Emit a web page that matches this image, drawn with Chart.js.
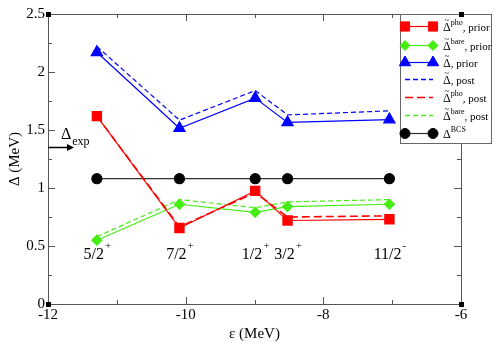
<!DOCTYPE html>
<html><head><meta charset="utf-8">
<script src="https://cdn.jsdelivr.net/npm/chart.js@4"></script>
<style>html,body{margin:0;padding:0;background:#fff;}canvas{display:block;}</style>
</head><body>
<canvas id="c" width="498" height="345"></canvas>
<script>
// ---- data ----
const eps = [-11.29, -10.09, -8.99, -8.52, -7.04];
const stateBase = ['5/2', '7/2', '1/2', '3/2', '11/2'];
const stateParity = ['+', '+', '+', '+', '-'];
const phoPrior  = [1.62, 0.655, 0.975, 0.72, 0.73];
const barePrior = [0.55, 0.86, 0.79, 0.84, 0.86];
const tildePrior = [2.17, 1.515, 1.775, 1.565, 1.59];
const tildePost  = [2.22, 1.585, 1.84, 1.63, 1.665];
const phoPost   = [1.62, 0.665, 0.96, 0.75, 0.76];
const barePost  = [0.58, 0.90, 0.83, 0.88, 0.90];
const bcs       = [1.08, 1.08, 1.08, 1.08, 1.08];
const deltaExp = 1.35;
const stateLabelY = 0.45;
const xTicks = [-12, -10, -8, -6];
const yTicks = [0, 0.5, 1, 1.5, 2, 2.5];

const legendSup = ['pho', 'bare', '', '', 'pho', 'bare', 'BCS'];
const legendSuffix = [', prior', ', prior', ', prior', ', post', ', post', ', post', ''];
const legendTilde = [true, true, true, true, true, true, false];

const RED = '#ff0000', GREEN = '#44ee11', BLUE = '#0000ff', BLACK = '#000000';
const pts = arr => arr.map((v, i) => ({x: eps[i], y: v}));

const datasets = [
  {data: pts(phoPrior), borderColor: RED, backgroundColor: RED, pointStyle: 'rect', pointRadius: 6.5, borderWidth: 1.2},
  {data: pts(barePrior), borderColor: GREEN, backgroundColor: GREEN, pointStyle: 'rectRot', pointRadius: 5, borderWidth: 1.2},
  {data: pts(tildePrior), borderColor: BLUE, backgroundColor: BLUE, pointStyle: 'triangle', pointRadius: 6.5, borderWidth: 1.2},
  {data: pts(tildePost), borderColor: BLUE, borderDash: [5, 3], pointRadius: 0, borderWidth: 1.2},
  {data: pts(phoPost), borderColor: RED, borderDash: [8, 4], pointRadius: 0, borderWidth: 1.6},
  {data: pts(barePost), borderColor: GREEN, borderDash: [5, 3], pointRadius: 0, borderWidth: 1.2},
  {data: pts(bcs), borderColor: '#333', backgroundColor: BLACK, pointStyle: 'circle', pointRadius: 5, borderWidth: 1.2, pointBorderColor: BLACK}
];
datasets.forEach(d => { d.tension = 0; d.fill = false; d.pointHoverRadius = d.pointRadius; });

const SERIF = '"Liberation Serif", "DejaVu Serif", serif';

function drawDeltaLabel(ctx, x, y, tilde, sup, suffix) {
  ctx.fillStyle = '#000';
  ctx.textBaseline = 'alphabetic';
  ctx.textAlign = 'left';
  ctx.font = '12px ' + SERIF;
  ctx.fillText('Δ', x, y);
  const w = ctx.measureText('Δ').width;
  if (tilde) {
    ctx.font = '9px ' + SERIF;
    const tw = ctx.measureText('~').width;
    ctx.fillText('~', x + (w - tw) / 2, y - 8);
  }
  let cx = x + w;
  if (sup) {
    ctx.font = '8px ' + SERIF;
    ctx.fillText(sup, cx, y - 6);
    cx += ctx.measureText(sup).width;
  }
  if (suffix) {
    ctx.font = '11px ' + SERIF;
    ctx.fillText(suffix, cx, y);
  }
}

const deco = {
  id: 'deco',
  beforeDatasetsDraw(chart) {
    const {ctx, chartArea: a, scales: {x, y}} = chart;
    ctx.save();
    ctx.strokeStyle = '#555';
    ctx.lineWidth = 1;
    ctx.strokeRect(a.left + 0.5, a.top + 0.5, a.right - a.left, a.bottom - a.top);
    ctx.beginPath();
    for (let v = -12; v <= -6; v += 1) {
      const px = Math.round(x.getPixelForValue(v)) + 0.5;
      const L = (v % 2 === 0) ? 7 : 4;
      ctx.moveTo(px, a.bottom); ctx.lineTo(px, a.bottom - L);
      ctx.moveTo(px, a.top); ctx.lineTo(px, a.top + L);
    }
    for (let v = 0; v <= 2.5001; v += 0.25) {
      const py = Math.round(y.getPixelForValue(v)) + 0.5;
      const L = (Math.abs(v * 2 - Math.round(v * 2)) < 1e-6) ? 7 : 4;
      ctx.moveTo(a.left, py); ctx.lineTo(a.left + L, py);
      ctx.moveTo(a.right, py); ctx.lineTo(a.right - L, py);
    }
    ctx.stroke();
    ctx.restore();
  },
  afterDraw(chart) {
    const {ctx, chartArea: a, scales: {x, y}} = chart;
    ctx.save();
    // state labels
    eps.forEach((e, i) => {
      const px = x.getPixelForValue(e), py = y.getPixelForValue(stateLabelY);
      ctx.font = '16px ' + SERIF;
      const w1 = ctx.measureText(stateBase[i]).width;
      ctx.font = '11px ' + SERIF;
      const w2 = ctx.measureText(stateParity[i]).width;
      const x0 = px - (w1 + w2) / 2;
      ctx.fillStyle = '#000';
      ctx.textAlign = 'left';
      ctx.textBaseline = 'alphabetic';
      ctx.font = '16px ' + SERIF;
      ctx.fillText(stateBase[i], x0, py + 7);
      ctx.font = '11px ' + SERIF;
      ctx.fillText(stateParity[i], x0 + w1 + 1, py - 3);
    });
    // Delta_exp arrow
    const ay = Math.round(y.getPixelForValue(deltaExp)) + 0.5;
    const ax0 = x.getPixelForValue(-12), ax1 = ax0 + 26;
    ctx.strokeStyle = '#000'; ctx.fillStyle = '#000'; ctx.lineWidth = 1.5;
    ctx.beginPath(); ctx.moveTo(ax0, ay); ctx.lineTo(ax1 - 5, ay); ctx.stroke();
    ctx.beginPath(); ctx.moveTo(ax1, ay); ctx.lineTo(ax1 - 7, ay - 3.5); ctx.lineTo(ax1 - 7, ay + 3.5); ctx.closePath(); ctx.fill();
    ctx.font = '16px ' + SERIF;
    ctx.fillText('Δ', ax0 + 13, ay - 9);
    const dw = ctx.measureText('Δ').width;
    ctx.font = '12px ' + SERIF;
    ctx.fillText('exp', ax0 + 13 + dw + 1, ay - 3);

    // legend
    const lx = 400, ly = 14, lw = 91, lh = 129;
    ctx.fillStyle = '#fff';
    ctx.fillRect(lx, ly, lw, lh);
    ctx.strokeStyle = '#666'; ctx.lineWidth = 1;
    ctx.strokeRect(lx + 0.5, ly + 0.5, lw, lh);
    const rows = [26, 45, 62, 79, 97, 115, 133];
    chart.data.datasets.forEach((d, i) => {
      const ry = rows[i] + 0.5;
      const sx0 = 405, sx1 = 433;
      ctx.save();
      ctx.strokeStyle = d.borderColor;
      ctx.lineWidth = d.borderDash ? Math.max(1.6, d.borderWidth) : d.borderWidth;
      ctx.setLineDash(d.borderDash || []);
      ctx.beginPath(); ctx.moveTo(sx0, ry); ctx.lineTo(sx1, ry); ctx.stroke();
      ctx.restore();
      if (d.pointRadius > 0) {
        ctx.fillStyle = d.backgroundColor; ctx.strokeStyle = d.pointBorderColor || d.borderColor;
        [sx0, sx1].forEach(px => {
          Chart.helpers.drawPoint(ctx, {pointStyle: d.pointStyle, radius: d.pointRadius, borderWidth: 1, rotation: 0}, px, ry);
        });
      }
      drawDeltaLabel(ctx, 443, rows[i] + 5, legendTilde[i], legendSup[i], legendSuffix[i]);
    });
    // corner squares
    ctx.fillStyle = '#000';
    [[-12, 0], [-6, 0], [-12, 2.5], [-6, 2.5]].forEach(([vx, vy]) => {
      ctx.fillRect(Math.round(x.getPixelForValue(vx)) - 2, Math.round(y.getPixelForValue(vy)) - 2, 5, 5);
    });
    ctx.restore();
  }
};

new Chart(document.getElementById('c'), {
  type: 'line',
  data: {datasets},
  options: {
    responsive: false,
    animation: false,
    devicePixelRatio: 1,
    layout: {padding: {top: 14, right: 37, left: 0, bottom: 0}},
    plugins: {legend: {display: false}, tooltip: {enabled: false}},
    scales: {
      x: {
        type: 'linear', min: -12, max: -6,
        afterBuildTicks: s => { s.ticks = xTicks.map(v => ({value: v})); },
        ticks: {color: '#000', font: {family: SERIF, size: 15}, padding: 2, maxRotation: 0, callback: v => String(v)},
        grid: {display: false, drawTicks: false},
        border: {display: false},
        title: {display: true, text: 'ε (MeV)', color: '#000', font: {family: SERIF, size: 15}, padding: {top: 0, bottom: 2}},
        afterFit: s => { s.height = 41; }
      },
      y: {
        min: 0, max: 2.5,
        afterBuildTicks: s => { s.ticks = yTicks.map(v => ({value: v})); },
        ticks: {color: '#000', font: {family: SERIF, size: 15}, padding: 3, callback: v => String(v)},
        grid: {display: false, drawTicks: false},
        border: {display: false},
        title: {display: true, text: 'Δ (MeV)', color: '#000', font: {family: SERIF, size: 15}, padding: {top: 6, bottom: 0}},
        afterFit: s => { s.width = 48; }
      }
    }
  },
  plugins: [deco]
});
</script>
</body></html>
